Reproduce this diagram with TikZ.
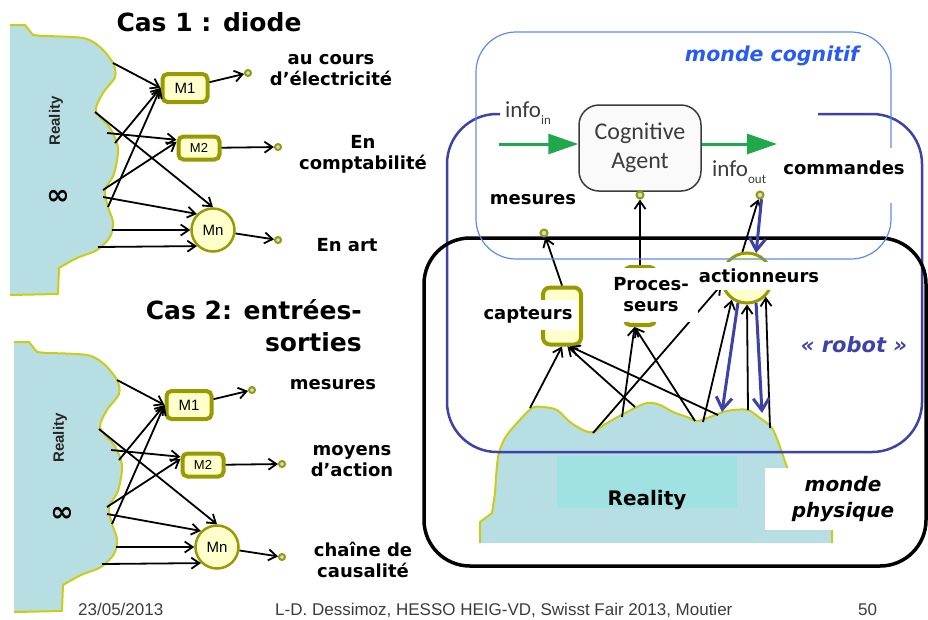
\documentclass[tikz,border=0pt]{standalone}
\usepackage{fontspec}
\setmainfont{Liberation Sans}
\newfontfamily\heavyfont{DejaVu Sans}
\newfontfamily\agentfont{Carlito}
\usetikzlibrary{arrows.meta}

\definecolor{realfill}{RGB}{183,222,226}
\definecolor{realedge}{RGB}{204,204,20}
\definecolor{realcyan}{RGB}{160,225,225}
\definecolor{oliv}{RGB}{153,153,0}
\definecolor{mfill}{RGB}{255,255,204}
\definecolor{termfill}{RGB}{190,226,232}
\definecolor{cogblue}{RGB}{90,140,240}
\definecolor{cogtext}{RGB}{40,90,245}
\definecolor{robotblue}{RGB}{60,66,168}
\definecolor{agentgreen}{RGB}{34,168,76}
\definecolor{infogray}{RGB}{60,60,60}

\newcommand{\heavy}[2]{\heavyfont\bfseries\fontsize{#1}{#2}\selectfont}
\newcommand{\infosub}[1]{\raisebox{-7pt}{\fontsize{13}{13}\selectfont #1}}

\begin{document}
\begin{tikzpicture}[x=1pt,y=-1pt,
    blob/.style={fill=realfill,draw=realedge,line width=2pt,line join=round},
    mbox/.style={draw=oliv,fill=mfill,line width=4pt,rounded corners=5pt,inner sep=0pt},
    mcirc/.style={circle,draw=oliv,fill=mfill,line width=2.5pt,inner sep=0pt},
    term/.style={circle,draw=oliv,fill=termfill,line width=2pt,minimum size=6pt,inner sep=0pt},
    arr/.style={-{Straight Barb[length=8pt,width=11pt]},line width=1.8pt},
    bluearr/.style={-{Straight Barb[length=12pt,width=16pt]},line width=3pt,draw=robotblue},
    greenarr/.style={-{Triangle[length=30pt,width=20pt]},line width=3pt,draw=agentgreen},
    lbl/.style={font=\heavy{18}{21},align=center,inner sep=1pt},
    whitelbl/.style={lbl,fill=white},
    title/.style={font=\heavy{25}{32},inner sep=0pt},
    agent/.style={draw=infogray,fill=black!2,line width=1.5pt,rounded corners=20pt,
        minimum width=122pt,minimum height=86pt,align=center,text=infogray,
        font=\agentfont\fontsize{24}{29}\selectfont},
    infotxt/.style={text=infogray,inner sep=0pt,font=\agentfont\fontsize{23}{23}\selectfont},
    foot/.style={text=infogray,inner sep=0pt,font=\fontsize{17}{17}\selectfont}]
\useasboundingbox (0,0) rectangle (928,619);

% the two cases on the left
\foreach \k/\dx/\dy in {1/0/0,2/4/317} {
  \begin{scope}[shift={(\dx,\dy)}]
    \filldraw[blob] (10,295) -- (58,294) -- plot[smooth] coordinates {(59,268) (77,258) (97,250)
      (110,237) (113,222) (108,207) (105,190) (114,174) (118,148) (110,128) (96,111) (103,93)
      (115,77) (113,63) (100,47) (83,38) (42,36)} -- (33,35) -- (25,25) -- (10,25);
    \node[rotate=90,text=black!85,font=\bfseries\fontsize{15}{15}\selectfont] (real-\k) at (56,121) {Reality};
    \node[font=\heavy{28}{28}] (inf-\k) at (58,197) {∞};
    \coordinate (r1-\k) at (113,63);
    \coordinate (r2-\k) at (95,112);
    \coordinate (r3-\k) at (107,133);
    \coordinate (r4-\k) at (115,143);
    \coordinate (r5-\k) at (103,190);
    \coordinate (r6-\k) at (103,197);
    \coordinate (r7-\k) at (108,207);
    \coordinate (r8-\k) at (112,230);
    \coordinate (r9-\k) at (98,247);
    \node[mbox,minimum width=45pt,minimum height=28pt,font=\fontsize{15}{15}\selectfont] (M1-\k) at (185,88) {M1};
    \node[mbox,minimum width=41pt,minimum height=23pt,font=\fontsize{13}{13}\selectfont] (M2-\k) at (199,148) {M2};
    \node[mcirc,minimum size=43pt,font=\fontsize{15}{15}\selectfont] (Mn-\k) at (213,230) {Mn};
    \node[term] (o1-\k) at (248,73) {};
    \node[term] (o2-\k) at (278,147) {};
    \node[term] (o3-\k) at (278,240) {};
    \foreach \src/\dst/\anc in {1/M1/west,2/Mn/north,3/M2/160,4/M1/west,5/M2/165,
                               6/Mn/135,7/M1/west,8/Mn/west,9/Mn/-135}
      \draw[arr] (r\src-\k) -- (\dst-\k.\anc);
    \draw[arr] (M1-\k) -- (o1-\k);
    \draw[arr] (M2-\k) -- (o2-\k);
    \draw[arr] (Mn-\k) -- (o3-\k);
  \end{scope}
}

\node[title,anchor=base] (cas1) at (209,31) {Cas 1 : diode};
\node[title,align=right,anchor=north east] (cas2) at (362,299) {Cas 2: entrées-\\sorties};
\node[lbl] (elec) at (331,70) {au cours\\d’électricité};
\node[lbl] (compta) at (363,154) {En\\comptabilité};
\node[lbl] (art) at (347,245) {En art};
\node[lbl] (mes2) at (333,385) {mesures};
\node[lbl] (moyens) at (352,461) {moyens\\d’action};
\node[lbl] (chaine) at (363,560) {chaîne de\\causalité};

% physical world and robot
\filldraw[blob] (480,543) -- (480,522) -- (492,513) -- plot[smooth] coordinates {(495,493) (498,457)
  (505,438) (517,423) (532,408) (543,407) (557,410) (570,422) (583,430) (593,432) (607,423)
  (627,412) (647,403) (660,405) (673,412) (687,417) (697,421) (710,417) (723,412) (733,410)
  (748,410) (760,418) (772,428) (780,447) (787,467) (800,500)} -- (832,528) -- (832,543);
\node[fill=realcyan,anchor=base,minimum width=180pt,text height=46pt,text depth=0pt,
  inner ysep=3pt,font=\heavy{20}{20}] (reality) at (647,505) {Reality};
\draw[robotblue,line width=2.5pt,rounded corners=50pt] (818,114) -- (922,114) -- (922,452)
  -- (447,452) -- (447,114) -- (500,114);
\draw[line width=3.5pt,rounded corners=46pt] (424,238) rectangle (926,566);
\node[text=robotblue,font={\heavy{21}{21}\itshape}] (robot) at (854,345) {« robot »};

% cognitive agent
\node[agent] (agent) at (640,148) {Cognitive\\Agent};
\coordinate (infoin) at (499,144);
\coordinate (infoout) at (777,144);
\draw[greenarr] (infoin) -- (infoin -| agent.west);
\draw[greenarr] (agent.east |- infoout) -- (infoout);
\node[infotxt,anchor=base west] (inlbl) at (505,117) {info\infosub{in}};
\node[infotxt,anchor=base west] (outlbl) at (712,176) {info\infosub{out}};
\node[term,minimum size=7pt] (tAgent) at (640,195) {};
\node[term,minimum size=7pt] (tMes) at (544,233) {};
\node[term,minimum size=7pt] (tOut) at (760,195) {};

% sensors, processors, actuators
\node[mbox,rounded corners=7pt,minimum width=38pt,minimum height=57pt] (capt) at (562,316) {};
\node[mbox,minimum width=30pt,minimum height=58pt] (proc) at (640,296) {};
\node[mcirc,line width=3pt,minimum size=50pt] (act) at (747,278) {};
\coordinate (b1) at (530,408);
\coordinate (b2) at (635,407);
\coordinate (b3) at (718,415);
\coordinate (b4) at (622,417);
\coordinate (b5) at (695,421);
\coordinate (b6) at (593,433);
\coordinate (b7) at (703,422);
\coordinate (b8) at (748,410);
\coordinate (b9) at (770,428);
\coordinate (d1) at (722,412);
\coordinate (d2) at (762,413);
\foreach \src/\dst in {b1/capt.south,b2/capt.-80,b3/capt.-75,b4/proc.-100,b5/proc.-100,
                       b6/act.195,b7/act.235,b8/act.south,b9/act.-45}
  \draw[arr] (\src) -- (\dst);
\draw[bluearr] (act.-110) -- (d1);
\draw[bluearr] (act.-70) -- (d2);
\draw[arr] (capt.north) -- (tMes);
\draw[arr] (proc.north) -- (tAgent);
\draw[arr] (act.100) -- (tOut.250);
\draw[bluearr] (tOut.290) -- (act.70);

\draw[cogblue,line width=1.2pt,rounded corners=40pt] (476,32) rectangle (891,259);
\node[text=cogtext,font={\heavy{20.5}{20.5}\itshape}] (coglbl) at (772,56) {monde cognitif};

\node[lbl] (meslbl) at (533,200) {mesures};
\node[whitelbl,minimum width=97pt,minimum height=30pt] (captlbl) at (528,315) {capteurs};
\node[whitelbl,minimum width=93pt,minimum height=54pt] (proclbl) at (651,295) {Proces-\\seurs};
\node[whitelbl,minimum width=122pt,minimum height=28pt] (actlbl) at (759,276) {actionneurs};
\node[whitelbl,anchor=base,text height=22pt,text depth=25pt,inner ysep=4pt] (cmdlbl) at (844,174) {commandes};
\node[whitelbl,minimum width=156pt,minimum height=62pt,font={\heavy{20}{26}\itshape}] (physlbl) at (843,499) {monde\\physique};

% footer
\node[foot,anchor=base west] (date) at (78,615) {23/05/2013};
\node[foot,anchor=base west] (author) at (275,615) {L-D. Dessimoz, HESSO HEIG-VD, Swisst Fair 2013, Moutier};
\node[foot,anchor=base west] (page) at (858,615) {50};
\end{tikzpicture}
\end{document}
